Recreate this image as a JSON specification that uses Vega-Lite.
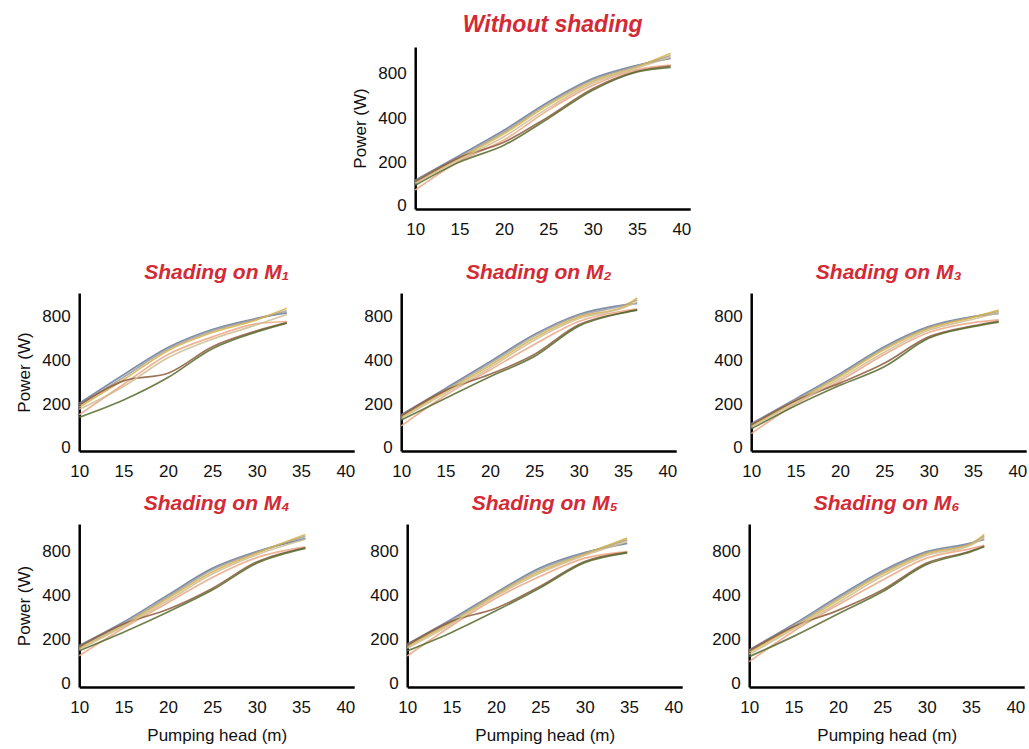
{
"$schema":"https://vega.github.io/schema/vega-lite/v6.json",
"padding":{"left":15,"top":14,"right":5,"bottom":2},
"config":{"view":{"stroke":null},
"axis":{"domainColor":"#000","domainWidth":2.5,"ticks":false,"grid":false,"labelFont":"Liberation Sans","labelFontSize":17,"labelColor":"#111","labelPadding":9,"labelFlush":false,"titleFont":"Liberation Sans","titleFontSize":17,"titleFontWeight":"normal","titleColor":"#111","titlePadding":8},
"axisX":{"titlePadding":12,"labelPadding":12},
"title":{"color":"#d42a35","font":"Liberation Sans","fontSize":21,"fontStyle":"italic","fontWeight":"bold","anchor":"middle","offset":10},
"line":{"interpolate":"monotone","strokeWidth":1.7,"opacity":0.85}},
"datasets":{"d":[
{"p":"T","s":"A","x":10,"y":115},{"p":"T","s":"A","x":15,"y":230},{"p":"T","s":"A","x":20,"y":344},{"p":"T","s":"A","x":25,"y":542},{"p":"T","s":"A","x":30,"y":750},{"p":"T","s":"A","x":35,"y":868},{"p":"T","s":"A","x":38.8,"y":930},
{"p":"T","s":"B","x":10,"y":110},{"p":"T","s":"B","x":15,"y":224},{"p":"T","s":"B","x":20,"y":336},{"p":"T","s":"B","x":25,"y":530},{"p":"T","s":"B","x":30,"y":740},{"p":"T","s":"B","x":35,"y":862},{"p":"T","s":"B","x":38.8,"y":955},
{"p":"T","s":"C","x":10,"y":104},{"p":"T","s":"C","x":15,"y":218},{"p":"T","s":"C","x":20,"y":328},{"p":"T","s":"C","x":25,"y":515},{"p":"T","s":"C","x":30,"y":725},{"p":"T","s":"C","x":35,"y":855},{"p":"T","s":"C","x":38.8,"y":975},
{"p":"T","s":"D","x":10,"y":70},{"p":"T","s":"D","x":15,"y":205},{"p":"T","s":"D","x":20,"y":300},{"p":"T","s":"D","x":25,"y":470},{"p":"T","s":"D","x":30,"y":690},{"p":"T","s":"D","x":35,"y":830},{"p":"T","s":"D","x":38.8,"y":870},
{"p":"T","s":"E","x":10,"y":108},{"p":"T","s":"E","x":15,"y":220},{"p":"T","s":"E","x":20,"y":290},{"p":"T","s":"E","x":25,"y":410},{"p":"T","s":"E","x":30,"y":660},{"p":"T","s":"E","x":35,"y":815},{"p":"T","s":"E","x":38.8,"y":862},
{"p":"T","s":"F","x":10,"y":92},{"p":"T","s":"F","x":15,"y":200},{"p":"T","s":"F","x":20,"y":276},{"p":"T","s":"F","x":25,"y":398},{"p":"T","s":"F","x":30,"y":646},{"p":"T","s":"F","x":35,"y":809},{"p":"T","s":"F","x":38.8,"y":850},
{"p":"T","s":"G","x":10,"y":100},{"p":"T","s":"G","x":15,"y":212},{"p":"T","s":"G","x":20,"y":315},{"p":"T","s":"G","x":25,"y":490},{"p":"T","s":"G","x":30,"y":710},{"p":"T","s":"G","x":35,"y":845},{"p":"T","s":"G","x":38.8,"y":940},

{"p":"M1","s":"A","x":10,"y":203},{"p":"M1","s":"A","x":15,"y":333},{"p":"M1","s":"A","x":20,"y":514},{"p":"M1","s":"A","x":25,"y":677},{"p":"M1","s":"A","x":30,"y":778},{"p":"M1","s":"A","x":33.4,"y":831},
{"p":"M1","s":"B","x":10,"y":195},{"p":"M1","s":"B","x":15,"y":322},{"p":"M1","s":"B","x":20,"y":500},{"p":"M1","s":"B","x":25,"y":665},{"p":"M1","s":"B","x":30,"y":772},{"p":"M1","s":"B","x":33.4,"y":853},
{"p":"M1","s":"C","x":10,"y":185},{"p":"M1","s":"C","x":15,"y":310},{"p":"M1","s":"C","x":20,"y":485},{"p":"M1","s":"C","x":25,"y":650},{"p":"M1","s":"C","x":30,"y":765},{"p":"M1","s":"C","x":33.4,"y":877},
{"p":"M1","s":"D","x":10,"y":150},{"p":"M1","s":"D","x":15,"y":290},{"p":"M1","s":"D","x":20,"y":450},{"p":"M1","s":"D","x":25,"y":610},{"p":"M1","s":"D","x":30,"y":730},{"p":"M1","s":"D","x":33.4,"y":750},
{"p":"M1","s":"E","x":10,"y":195},{"p":"M1","s":"E","x":15,"y":305},{"p":"M1","s":"E","x":20,"y":340},{"p":"M1","s":"E","x":25,"y":520},{"p":"M1","s":"E","x":30,"y":665},{"p":"M1","s":"E","x":33.4,"y":740},
{"p":"M1","s":"F","x":10,"y":138},{"p":"M1","s":"F","x":15,"y":218},{"p":"M1","s":"F","x":20,"y":320},{"p":"M1","s":"F","x":25,"y":502},{"p":"M1","s":"F","x":30,"y":655},{"p":"M1","s":"F","x":33.4,"y":735},
{"p":"M1","s":"G","x":10,"y":175},{"p":"M1","s":"G","x":15,"y":280},{"p":"M1","s":"G","x":20,"y":420},{"p":"M1","s":"G","x":25,"y":590},{"p":"M1","s":"G","x":30,"y":720},{"p":"M1","s":"G","x":33.4,"y":815},

{"p":"M2","s":"A","x":10,"y":150},{"p":"M2","s":"A","x":15,"y":271},{"p":"M2","s":"A","x":20,"y":392},{"p":"M2","s":"A","x":25,"y":631},{"p":"M2","s":"A","x":30,"y":815},{"p":"M2","s":"A","x":35,"y":908},{"p":"M2","s":"A","x":36.6,"y":925},
{"p":"M2","s":"B","x":10,"y":145},{"p":"M2","s":"B","x":15,"y":265},{"p":"M2","s":"B","x":20,"y":385},{"p":"M2","s":"B","x":25,"y":620},{"p":"M2","s":"B","x":30,"y":805},{"p":"M2","s":"B","x":35,"y":905},{"p":"M2","s":"B","x":36.6,"y":960},
{"p":"M2","s":"C","x":10,"y":138},{"p":"M2","s":"C","x":15,"y":258},{"p":"M2","s":"C","x":20,"y":375},{"p":"M2","s":"C","x":25,"y":600},{"p":"M2","s":"C","x":30,"y":790},{"p":"M2","s":"C","x":35,"y":890},{"p":"M2","s":"C","x":36.6,"y":980},
{"p":"M2","s":"D","x":10,"y":98},{"p":"M2","s":"D","x":15,"y":240},{"p":"M2","s":"D","x":20,"y":355},{"p":"M2","s":"D","x":25,"y":540},{"p":"M2","s":"D","x":30,"y":750},{"p":"M2","s":"D","x":35,"y":850},{"p":"M2","s":"D","x":36.6,"y":870},
{"p":"M2","s":"E","x":10,"y":145},{"p":"M2","s":"E","x":15,"y":262},{"p":"M2","s":"E","x":20,"y":335},{"p":"M2","s":"E","x":25,"y":450},{"p":"M2","s":"E","x":30,"y":720},{"p":"M2","s":"E","x":35,"y":835},{"p":"M2","s":"E","x":36.6,"y":862},
{"p":"M2","s":"F","x":10,"y":125},{"p":"M2","s":"F","x":15,"y":226},{"p":"M2","s":"F","x":20,"y":324},{"p":"M2","s":"F","x":25,"y":431},{"p":"M2","s":"F","x":30,"y":708},{"p":"M2","s":"F","x":35,"y":831},{"p":"M2","s":"F","x":36.6,"y":858},
{"p":"M2","s":"G","x":10,"y":132},{"p":"M2","s":"G","x":15,"y":250},{"p":"M2","s":"G","x":20,"y":365},{"p":"M2","s":"G","x":25,"y":580},{"p":"M2","s":"G","x":30,"y":775},{"p":"M2","s":"G","x":35,"y":880},{"p":"M2","s":"G","x":36.6,"y":940},

{"p":"M3","s":"A","x":10,"y":108},{"p":"M3","s":"A","x":15,"y":223},{"p":"M3","s":"A","x":20,"y":338},{"p":"M3","s":"A","x":25,"y":521},{"p":"M3","s":"A","x":30,"y":703},{"p":"M3","s":"A","x":35,"y":794},{"p":"M3","s":"A","x":37.9,"y":826},
{"p":"M3","s":"B","x":10,"y":104},{"p":"M3","s":"B","x":15,"y":218},{"p":"M3","s":"B","x":20,"y":332},{"p":"M3","s":"B","x":25,"y":510},{"p":"M3","s":"B","x":30,"y":695},{"p":"M3","s":"B","x":35,"y":792},{"p":"M3","s":"B","x":37.9,"y":845},
{"p":"M3","s":"C","x":10,"y":98},{"p":"M3","s":"C","x":15,"y":212},{"p":"M3","s":"C","x":20,"y":325},{"p":"M3","s":"C","x":25,"y":495},{"p":"M3","s":"C","x":30,"y":685},{"p":"M3","s":"C","x":35,"y":788},{"p":"M3","s":"C","x":37.9,"y":858},
{"p":"M3","s":"D","x":10,"y":62},{"p":"M3","s":"D","x":15,"y":200},{"p":"M3","s":"D","x":20,"y":305},{"p":"M3","s":"D","x":25,"y":450},{"p":"M3","s":"D","x":30,"y":650},{"p":"M3","s":"D","x":35,"y":740},{"p":"M3","s":"D","x":37.9,"y":765},
{"p":"M3","s":"E","x":10,"y":102},{"p":"M3","s":"E","x":15,"y":215},{"p":"M3","s":"E","x":20,"y":295},{"p":"M3","s":"E","x":25,"y":385},{"p":"M3","s":"E","x":30,"y":610},{"p":"M3","s":"E","x":35,"y":710},{"p":"M3","s":"E","x":37.9,"y":752},
{"p":"M3","s":"F","x":10,"y":85},{"p":"M3","s":"F","x":15,"y":192},{"p":"M3","s":"F","x":20,"y":285},{"p":"M3","s":"F","x":25,"y":369},{"p":"M3","s":"F","x":30,"y":597},{"p":"M3","s":"F","x":35,"y":703},{"p":"M3","s":"F","x":37.9,"y":745},
{"p":"M3","s":"G","x":10,"y":92},{"p":"M3","s":"G","x":15,"y":205},{"p":"M3","s":"G","x":20,"y":315},{"p":"M3","s":"G","x":25,"y":470},{"p":"M3","s":"G","x":30,"y":670},{"p":"M3","s":"G","x":35,"y":770},{"p":"M3","s":"G","x":37.9,"y":835},

{"p":"M4","s":"A","x":10,"y":170},{"p":"M4","s":"A","x":15,"y":277},{"p":"M4","s":"A","x":20,"y":400},{"p":"M4","s":"A","x":25,"y":642},{"p":"M4","s":"A","x":30,"y":794},{"p":"M4","s":"A","x":35.5,"y":905},
{"p":"M4","s":"B","x":10,"y":165},{"p":"M4","s":"B","x":15,"y":270},{"p":"M4","s":"B","x":20,"y":392},{"p":"M4","s":"B","x":25,"y":630},{"p":"M4","s":"B","x":30,"y":788},{"p":"M4","s":"B","x":35.5,"y":925},
{"p":"M4","s":"C","x":10,"y":158},{"p":"M4","s":"C","x":15,"y":263},{"p":"M4","s":"C","x":20,"y":385},{"p":"M4","s":"C","x":25,"y":610},{"p":"M4","s":"C","x":30,"y":780},{"p":"M4","s":"C","x":35.5,"y":940},
{"p":"M4","s":"D","x":10,"y":124},{"p":"M4","s":"D","x":15,"y":250},{"p":"M4","s":"D","x":20,"y":365},{"p":"M4","s":"D","x":25,"y":560},{"p":"M4","s":"D","x":30,"y":740},{"p":"M4","s":"D","x":35.5,"y":835},
{"p":"M4","s":"E","x":10,"y":165},{"p":"M4","s":"E","x":15,"y":268},{"p":"M4","s":"E","x":20,"y":335},{"p":"M4","s":"E","x":25,"y":460},{"p":"M4","s":"E","x":30,"y":700},{"p":"M4","s":"E","x":35.5,"y":828},
{"p":"M4","s":"F","x":10,"y":147},{"p":"M4","s":"F","x":15,"y":231},{"p":"M4","s":"F","x":20,"y":323},{"p":"M4","s":"F","x":25,"y":445},{"p":"M4","s":"F","x":30,"y":688},{"p":"M4","s":"F","x":35.5,"y":822},
{"p":"M4","s":"G","x":10,"y":152},{"p":"M4","s":"G","x":15,"y":258},{"p":"M4","s":"G","x":20,"y":375},{"p":"M4","s":"G","x":25,"y":590},{"p":"M4","s":"G","x":30,"y":765},{"p":"M4","s":"G","x":35.5,"y":900},

{"p":"M5","s":"A","x":10,"y":177},{"p":"M5","s":"A","x":15,"y":290},{"p":"M5","s":"A","x":20,"y":421},{"p":"M5","s":"A","x":25,"y":648},{"p":"M5","s":"A","x":30,"y":785},{"p":"M5","s":"A","x":34.8,"y":865},
{"p":"M5","s":"B","x":10,"y":172},{"p":"M5","s":"B","x":15,"y":283},{"p":"M5","s":"B","x":20,"y":412},{"p":"M5","s":"B","x":25,"y":635},{"p":"M5","s":"B","x":30,"y":778},{"p":"M5","s":"B","x":34.8,"y":895},
{"p":"M5","s":"C","x":10,"y":165},{"p":"M5","s":"C","x":15,"y":276},{"p":"M5","s":"C","x":20,"y":403},{"p":"M5","s":"C","x":25,"y":615},{"p":"M5","s":"C","x":30,"y":770},{"p":"M5","s":"C","x":34.8,"y":910},
{"p":"M5","s":"D","x":10,"y":123},{"p":"M5","s":"D","x":15,"y":260},{"p":"M5","s":"D","x":20,"y":385},{"p":"M5","s":"D","x":25,"y":570},{"p":"M5","s":"D","x":30,"y":735},{"p":"M5","s":"D","x":34.8,"y":795},
{"p":"M5","s":"E","x":10,"y":172},{"p":"M5","s":"E","x":15,"y":280},{"p":"M5","s":"E","x":20,"y":340},{"p":"M5","s":"E","x":25,"y":480},{"p":"M5","s":"E","x":30,"y":705},{"p":"M5","s":"E","x":34.8,"y":788},
{"p":"M5","s":"F","x":10,"y":146},{"p":"M5","s":"F","x":15,"y":230},{"p":"M5","s":"F","x":20,"y":328},{"p":"M5","s":"F","x":25,"y":467},{"p":"M5","s":"F","x":30,"y":694},{"p":"M5","s":"F","x":34.8,"y":783},
{"p":"M5","s":"G","x":10,"y":158},{"p":"M5","s":"G","x":15,"y":268},{"p":"M5","s":"G","x":20,"y":395},{"p":"M5","s":"G","x":25,"y":600},{"p":"M5","s":"G","x":30,"y":760},{"p":"M5","s":"G","x":34.8,"y":880},

{"p":"M6","s":"A","x":10,"y":151},{"p":"M6","s":"A","x":15,"y":267},{"p":"M6","s":"A","x":20,"y":392},{"p":"M6","s":"A","x":25,"y":619},{"p":"M6","s":"A","x":30,"y":794},{"p":"M6","s":"A","x":35,"y":867},{"p":"M6","s":"A","x":36.5,"y":898},
{"p":"M6","s":"B","x":10,"y":146},{"p":"M6","s":"B","x":15,"y":260},{"p":"M6","s":"B","x":20,"y":385},{"p":"M6","s":"B","x":25,"y":605},{"p":"M6","s":"B","x":30,"y":785},{"p":"M6","s":"B","x":35,"y":865},{"p":"M6","s":"B","x":36.5,"y":925},
{"p":"M6","s":"C","x":10,"y":140},{"p":"M6","s":"C","x":15,"y":253},{"p":"M6","s":"C","x":20,"y":376},{"p":"M6","s":"C","x":25,"y":590},{"p":"M6","s":"C","x":30,"y":775},{"p":"M6","s":"C","x":35,"y":860},{"p":"M6","s":"C","x":36.5,"y":942},
{"p":"M6","s":"D","x":10,"y":97},{"p":"M6","s":"D","x":15,"y":235},{"p":"M6","s":"D","x":20,"y":355},{"p":"M6","s":"D","x":25,"y":535},{"p":"M6","s":"D","x":30,"y":735},{"p":"M6","s":"D","x":35,"y":820},{"p":"M6","s":"D","x":36.5,"y":848},
{"p":"M6","s":"E","x":10,"y":146},{"p":"M6","s":"E","x":15,"y":256},{"p":"M6","s":"E","x":20,"y":330},{"p":"M6","s":"E","x":25,"y":445},{"p":"M6","s":"E","x":30,"y":690},{"p":"M6","s":"E","x":35,"y":800},{"p":"M6","s":"E","x":36.5,"y":840},
{"p":"M6","s":"F","x":10,"y":120},{"p":"M6","s":"F","x":15,"y":212},{"p":"M6","s":"F","x":20,"y":314},{"p":"M6","s":"F","x":25,"y":429},{"p":"M6","s":"F","x":30,"y":677},{"p":"M6","s":"F","x":35,"y":794},{"p":"M6","s":"F","x":36.5,"y":836},
{"p":"M6","s":"G","x":10,"y":130},{"p":"M6","s":"G","x":15,"y":245},{"p":"M6","s":"G","x":20,"y":365},{"p":"M6","s":"G","x":25,"y":570},{"p":"M6","s":"G","x":30,"y":760},{"p":"M6","s":"G","x":35,"y":850},{"p":"M6","s":"G","x":36.5,"y":910}
]},
"spacing":25,"center":true,
"vconcat":[
{"title":{"text":"Without shading","fontSize":23},"width":275,"height":162,"data":{"name":"d"},"transform":[{"filter":"datum.p==='T'"}],"mark":{"type":"line"},
"encoding":{"x":{"field":"x","type":"quantitative","scale":{"domain":[10,41],"nice":false,"zero":false},"axis":{"values":[10,15,20,25,30,35,40],"title":null}},
"y":{"field":"y","type":"quantitative","scale":{"domain":[-19,0,200,400,800,1030],"range":[162,158,115,71,26,0],"nice":false,"zero":false},"axis":{"values":[0,200,400,800],"title":"Power (W)"}},
"color":{"field":"s","type":"nominal","scale":{"domain":["G","D","C","B","A","E","F"],"range":["#cfbd92","#eba482","#d3b24a","#9e9e9e","#66789a","#8d5b3b","#566a2b"]},"legend":null}}},
{"spacing":14,"vconcat":[
{"spacing":36,"hconcat":[
{"spacing":8,"hconcat":[
{"title":"Shading on M₁","width":275,"height":158,"data":{"name":"d"},"transform":[{"filter":"datum.p==='M1'"}],"mark":{"type":"line"},
"encoding":{"x":{"field":"x","type":"quantitative","scale":{"domain":[10,41],"nice":false,"zero":false},"axis":{"values":[10,15,20,25,30,35,40],"title":null}},
"y":{"field":"y","type":"quantitative","scale":{"domain":[-19,0,200,400,800,1030],"range":[158,154,111,67,23,0],"nice":false,"zero":false},"axis":{"values":[0,200,400,800],"title":"Power (W)"}},
"color":{"field":"s","type":"nominal","scale":{"domain":["G","D","C","B","A","E","F"],"range":["#cfbd92","#eba482","#d3b24a","#9e9e9e","#66789a","#8d5b3b","#566a2b"]},"legend":null}}},
{"title":"Shading on M₂","width":275,"height":158,"data":{"name":"d"},"transform":[{"filter":"datum.p==='M2'"}],"mark":{"type":"line"},
"encoding":{"x":{"field":"x","type":"quantitative","scale":{"domain":[10,41],"nice":false,"zero":false},"axis":{"values":[10,15,20,25,30,35,40],"title":null}},
"y":{"field":"y","type":"quantitative","scale":{"domain":[-19,0,200,400,800,1030],"range":[158,154,111,67,23,0],"nice":false,"zero":false},"axis":{"values":[0,200,400,800],"title":null}},
"color":{"field":"s","type":"nominal","scale":{"domain":["G","D","C","B","A","E","F"],"range":["#cfbd92","#eba482","#d3b24a","#9e9e9e","#66789a","#8d5b3b","#566a2b"]},"legend":null}}}
]},
{"title":"Shading on M₃","width":275,"height":158,"data":{"name":"d"},"transform":[{"filter":"datum.p==='M3'"}],"mark":{"type":"line"},
"encoding":{"x":{"field":"x","type":"quantitative","scale":{"domain":[10,41],"nice":false,"zero":false},"axis":{"values":[10,15,20,25,30,35,40],"title":null}},
"y":{"field":"y","type":"quantitative","scale":{"domain":[-19,0,200,400,800,1030],"range":[158,154,111,67,23,0],"nice":false,"zero":false},"axis":{"values":[0,200,400,800],"title":null}},
"color":{"field":"s","type":"nominal","scale":{"domain":["G","D","C","B","A","E","F"],"range":["#cfbd92","#eba482","#d3b24a","#9e9e9e","#66789a","#8d5b3b","#566a2b"]},"legend":null}}}
]},
{"spacing":28,"hconcat":[
{"spacing":14,"hconcat":[
{"title":"Shading on M₄","width":275,"height":163,"data":{"name":"d"},"transform":[{"filter":"datum.p==='M4'"}],"mark":{"type":"line"},
"encoding":{"x":{"field":"x","type":"quantitative","scale":{"domain":[10,41],"nice":false,"zero":false},"axis":{"values":[10,15,20,25,30,35,40],"title":"Pumping head (m)"}},
"y":{"field":"y","type":"quantitative","scale":{"domain":[-19,0,200,400,800,1030],"range":[163,159,115,71,27,0],"nice":false,"zero":false},"axis":{"values":[0,200,400,800],"title":"Power (W)"}},
"color":{"field":"s","type":"nominal","scale":{"domain":["G","D","C","B","A","E","F"],"range":["#cfbd92","#eba482","#d3b24a","#9e9e9e","#66789a","#8d5b3b","#566a2b"]},"legend":null}}},
{"title":"Shading on M₅","width":275,"height":163,"data":{"name":"d"},"transform":[{"filter":"datum.p==='M5'"}],"mark":{"type":"line"},
"encoding":{"x":{"field":"x","type":"quantitative","scale":{"domain":[10,41],"nice":false,"zero":false},"axis":{"values":[10,15,20,25,30,35,40],"title":"Pumping head (m)"}},
"y":{"field":"y","type":"quantitative","scale":{"domain":[-19,0,200,400,800,1030],"range":[163,159,115,71,27,0],"nice":false,"zero":false},"axis":{"values":[0,200,400,800],"title":null}},
"color":{"field":"s","type":"nominal","scale":{"domain":["G","D","C","B","A","E","F"],"range":["#cfbd92","#eba482","#d3b24a","#9e9e9e","#66789a","#8d5b3b","#566a2b"]},"legend":null}}}
]},
{"title":"Shading on M₆","width":275,"height":163,"data":{"name":"d"},"transform":[{"filter":"datum.p==='M6'"}],"mark":{"type":"line"},
"encoding":{"x":{"field":"x","type":"quantitative","scale":{"domain":[10,41],"nice":false,"zero":false},"axis":{"values":[10,15,20,25,30,35,40],"title":"Pumping head (m)"}},
"y":{"field":"y","type":"quantitative","scale":{"domain":[-19,0,200,400,800,1030],"range":[163,159,115,71,27,0],"nice":false,"zero":false},"axis":{"values":[0,200,400,800],"title":null}},
"color":{"field":"s","type":"nominal","scale":{"domain":["G","D","C","B","A","E","F"],"range":["#cfbd92","#eba482","#d3b24a","#9e9e9e","#66789a","#8d5b3b","#566a2b"]},"legend":null}}}
]}
]}
]
}
